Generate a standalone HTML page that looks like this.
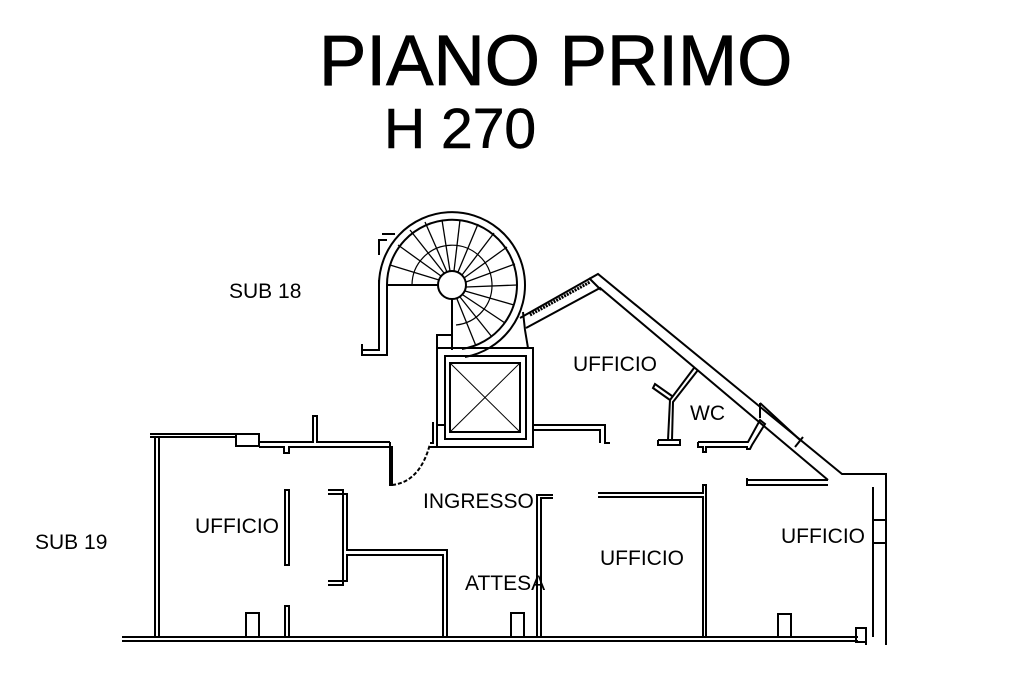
<!DOCTYPE html>
<html><head><meta charset="utf-8"><style>
html,body{margin:0;padding:0;background:#fff;}
svg{display:block;}
text{font-family:"Liberation Sans",Arial,sans-serif;fill:#000;}
</style></head><body>
<svg width="1024" height="682" viewBox="0 0 1024 682" xmlns="http://www.w3.org/2000/svg">
<text x="319" y="85" font-size="71" stroke="#000" stroke-width="0.8">PIANO PRIMO</text>
<text x="384" y="148" font-size="57" stroke="#000" stroke-width="0.6">H 270</text>

<g font-size="21">
<text x="229" y="298">SUB 18</text>
<text x="35" y="549">SUB 19</text>
<text x="573" y="371">UFFICIO</text>
<text x="690" y="420">WC</text>
<text x="423" y="508">INGRESSO</text>
<text x="195" y="533">UFFICIO</text>
<text x="465" y="590">ATTESA</text>
<text x="600" y="565">UFFICIO</text>
<text x="781" y="543">UFFICIO</text>
</g>

<g fill="none" stroke="#000" stroke-width="2">
<line x1="122" y1="637" x2="858" y2="637"/>
<line x1="122" y1="641" x2="858" y2="641"/>
<line x1="155" y1="437" x2="155" y2="637"/>
<line x1="159" y1="437" x2="159" y2="637"/>
<polyline points="150,434 236,434"/>
<polyline points="150,437 236,437"/>
<rect x="236" y="434" width="23" height="12"/>
<polyline points="259,442 313,442 313,416 317,416 317,442 390,442"/>
<polyline points="259,447 284,447 284,453 289,453 289,447 392,447 392,485 390,485 390,442"/>
<path d="M392,485 Q420,482 430,444" stroke-dasharray="4,2"/>
<polyline points="430,447 437,447 437,425 445,425"/>
<polyline points="430,443 433,443 433,422"/>
<rect x="437" y="348" width="96" height="99"/>
<rect x="445" y="356" width="81" height="83"/>
<rect x="450" y="363" width="70" height="69"/>
<line x1="450" y1="363" x2="520" y2="432" stroke-width="1"/>
<line x1="520" y1="363" x2="450" y2="432" stroke-width="1"/>
<polyline points="533,425 605,425 605,443 610,443"/>
<polyline points="533,430 600,430 600,443"/>
<circle cx="452" cy="285" r="14"/>
<path d="M379,285 A73,73 0 1 1 465,357"/>
<path d="M387,285 A65,65 0 1 1 462,349"/>
<path d="M412,285 A40,40 0 1 1 456,325" stroke-width="1.2"/>
<line x1="387" y1="285" x2="438" y2="285"/>
<line x1="452" y1="299" x2="452" y2="350"/>
<g stroke-width="1.3">
<line x1="390" y1="265" x2="439" y2="280"/>
<line x1="398" y1="245" x2="441" y2="276"/>
<line x1="410" y1="230" x2="444" y2="273"/>
<line x1="425" y1="222" x2="447" y2="272"/>
<line x1="442" y1="220" x2="450" y2="271"/>
<line x1="460" y1="220" x2="454" y2="271"/>
<line x1="478" y1="224" x2="458" y2="272"/>
<line x1="494" y1="233" x2="462" y2="275"/>
<line x1="507" y1="247" x2="464" y2="278"/>
<line x1="515" y1="264" x2="466" y2="282"/>
<line x1="517" y1="285" x2="466" y2="287"/>
<line x1="514" y1="305" x2="465" y2="291"/>
<line x1="505" y1="323" x2="463" y2="295"/>
<line x1="492" y1="337" x2="460" y2="297"/>
<line x1="476" y1="346" x2="457" y2="299"/>
</g>
<polyline points="387,285 387,355 362,355 362,344"/>
<polyline points="379,280 379,350 362,350"/>
<polyline points="387,240 379,240 379,255"/>
<polyline points="382,234 395,234"/>
<polyline points="437,348 437,335 452,335 452,348"/>
<polyline points="520,318 598,274 842,474 886,474 886,645"/>
<polyline points="526,328 600,288 828,480"/>
<polyline points="523,312 525,330 528,348"/>
<line x1="530" y1="315" x2="590" y2="282" stroke-width="3" stroke-dasharray="2,1"/>
<line x1="589" y1="278" x2="601" y2="290"/>
<line x1="760" y1="403" x2="760" y2="418"/>
<line x1="760" y1="403" x2="800" y2="440"/>
<line x1="795" y1="447" x2="803" y2="437"/>
<polyline points="873,487 873,637"/>
<line x1="873" y1="520" x2="886" y2="520"/>
<line x1="873" y1="543" x2="886" y2="543"/>
<rect x="856" y="628" width="10" height="14"/>
<line x1="866" y1="628" x2="866" y2="645"/>
<polyline points="747,478 747,485 828,485"/>
<polyline points="747,480 828,480"/>
<polyline points="694,368 670,400 668,440"/>
<polyline points="698,370 673,402 672,440"/>
<polyline points="670,400 653,388 655,384 672,396"/>
<polyline points="658,440 680,440 680,445 658,445 658,440"/>
<polyline points="698,442 748,442 760,420 765,424 752,445 750,449 747,449 747,447 706,447 706,452 703,452 703,447 698,447 698,442"/>
<polyline points="537,637 537,495 553,495"/>
<polyline points="541,637 541,498 553,498"/>
<polyline points="598,493 703,493 703,485 706,485 706,637"/>
<polyline points="598,497 703,497 703,637"/>
<rect x="285" y="490" width="4" height="75"/>
<rect x="285" y="606" width="4" height="31"/>
<polyline points="328,490 343,490 343,585 328,585"/>
<polyline points="328,494 347,494 347,550 447,550 447,637"/>
<polyline points="328,581 347,581 347,555 443,555 443,637"/>
<rect x="246" y="613" width="13" height="24"/>
<rect x="511" y="613" width="13" height="24"/>
<rect x="778" y="614" width="13" height="23"/>
</g>
</svg>
</body></html>
